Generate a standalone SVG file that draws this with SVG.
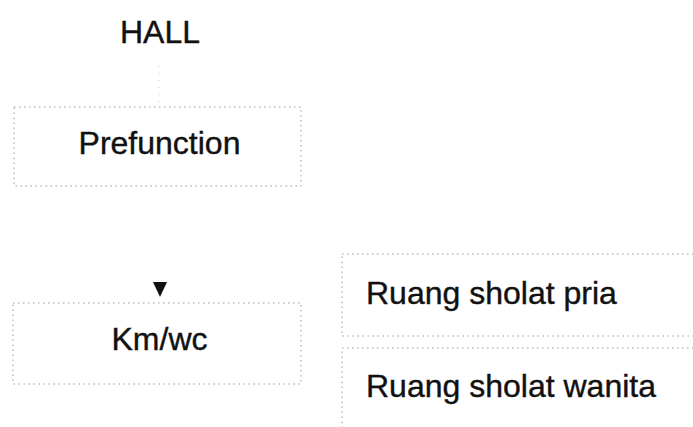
<svg xmlns="http://www.w3.org/2000/svg" width="693" height="427" viewBox="0 0 693 427">
<style>
.box{fill:none;stroke:#9a9a9a;stroke-width:1;stroke-dasharray:1.5 3.5}
.lbl{font-family:"Liberation Sans",Arial,sans-serif;font-size:32px;fill:#111;stroke:#111;stroke-width:0.4}
.conn{fill:none;stroke:#c8c8c8;stroke-width:1;stroke-dasharray:1 6}
</style>
<defs>
<marker id="ah" markerWidth="15" markerHeight="14" refX="15" refY="7" orient="auto" markerUnits="userSpaceOnUse" viewBox="0 0 15 14">
<path d="M0,0 L15,7 L0,14 Z" fill="#111"/>
</marker>
</defs>
<g id="connectors">
<line class="conn" x1="159" y1="66" x2="159" y2="104"/>
<line class="conn" x1="160" y1="190" x2="160" y2="297" stroke-opacity="0" marker-end="url(#ah)"/>
</g>
<g id="hall">
<text class="lbl" x="160" y="43" text-anchor="middle">HALL</text>
</g>
<g id="prefunction">
<rect class="box" x="14" y="107" width="287" height="79"/>
<text class="lbl" x="159.5" y="154" text-anchor="middle">Prefunction</text>
</g>
<g id="kmwc">
<rect class="box" x="13" y="303" width="288" height="81"/>
<text class="lbl" x="159.5" y="350" text-anchor="middle">Km/wc</text>
</g>
<g id="sholat-pria">
<rect class="box" x="342" y="254" width="360" height="82"/>
<text class="lbl" x="366" y="304">Ruang sholat pria</text>
</g>
<g id="sholat-wanita">
<rect class="box" x="342" y="348" width="360" height="90"/>
<text class="lbl" x="366" y="397">Ruang sholat wanita</text>
</g>
</svg>
